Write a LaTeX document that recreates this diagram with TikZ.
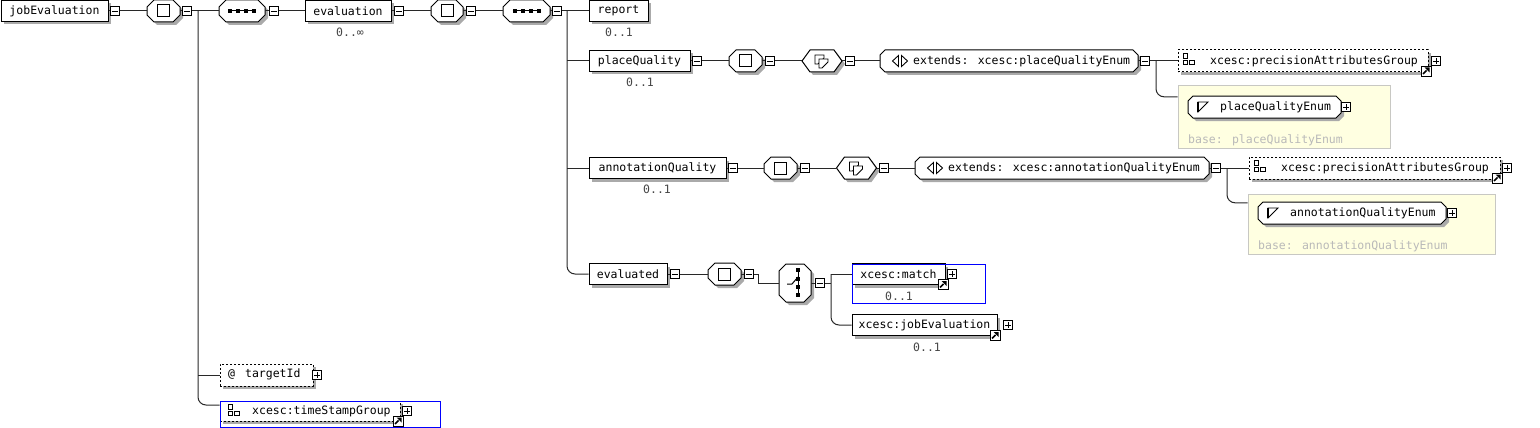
\documentclass[tikz,border=0pt]{standalone}
\usepackage{fontspec}
\newfontfamily\xmono{DejaVu Sans Mono}
\usetikzlibrary{shadows}
\definecolor{lineC}{RGB}{40,40,40}
\definecolor{shadowC}{RGB}{170,170,170}
\definecolor{occC}{RGB}{70,70,70}
\definecolor{yel}{RGB}{255,255,225}
\definecolor{yelB}{RGB}{200,200,195}
\definecolor{baseC}{RGB}{185,185,185}
% octagon outline with offset #1 (used for shadow)
\newcommand\octP[1]{(\oL+\oCx+#1,\oT+#1) -- (\oR-\oCx+#1,\oT+#1) -- (\oR+#1,\oT+\oCy+#1) -- (\oR+#1,\oB-\oCy+#1) -- (\oR-\oCx+#1,\oB+#1) -- (\oL+\oCx+#1,\oB+#1) -- (\oL+#1,\oB-\oCy+#1) -- (\oL+#1,\oT+\oCy+#1) -- cycle}
% #1 name, #2 cx, #3 cy, #4 w, #5 h, #6 chamfer x, #7 chamfer y
\newcommand\octo[7]{%
  \pgfmathsetmacro\oL{#2-#4/2}\pgfmathsetmacro\oR{#2+#4/2}%
  \pgfmathsetmacro\oT{#3-#5/2}\pgfmathsetmacro\oB{#3+#5/2}%
  \def\oCx{#6}\def\oCy{#7}%
  \fill[shadowC] \octP{3};
  \draw[line width=1pt, fill=white] \octP{0};
  \node[rectangle, inner sep=0pt, minimum width=#4pt, minimum height=#5pt] (#1) at (#2,#3) {};
}
\begin{document}
\begin{tikzpicture}[x=1pt,y=-1pt,
  txt/.style={font=\xmono\fontsize{11.5}{13}\selectfont, inner sep=0pt},
  occ/.style={txt, text=occC},
  basetxt/.style={txt, text=baseC, anchor=west},
  shad/.style={general shadow={fill=shadowC, shadow xshift=3pt, shadow yshift=-3pt}},
  elem/.style={txt, rectangle, draw=black, line width=1pt, fill=white, shad, minimum height=21pt},
  attr/.style={elem, dash pattern=on 2pt off 2pt, minimum height=22pt},
  ybox/.style={rectangle, draw=yelB, fill=yel, line width=1pt, inner sep=0pt},
  frame/.style={rectangle, draw=blue, line width=1pt, inner sep=0pt},
  pm/.style={rectangle, draw=black, fill=white, minimum size=9pt, inner sep=0pt, line width=0.8pt,
    path picture={\draw[line width=0.8pt] ([xshift=1.8pt]path picture bounding box.west) -- ([xshift=-1.8pt]path picture bounding box.east);}},
  pp/.style={rectangle, draw=black, fill=white, minimum size=9pt, inner sep=0pt, line width=0.8pt,
    path picture={\draw[line width=0.8pt] ([xshift=1.8pt]path picture bounding box.west) -- ([xshift=-1.8pt]path picture bounding box.east);
                  \draw[line width=0.8pt] ([yshift=-1.8pt]path picture bounding box.north) -- ([yshift=1.8pt]path picture bounding box.south);}},
  con/.style={draw=lineC, line width=1pt},
  sqI/.pic={\draw[line width=1pt] (-6,-6) rectangle (6,6);},
  seqI/.pic={\draw[line width=1pt] (-14,0) -- (14,0);
     \foreach \u in {-12,-4,4,12} {\fill (\u-2,-2) rectangle (\u+2,2);}},
  choiceI/.pic={\draw[line width=1pt] (3,-13) -- (3,12);
     \foreach \v in {-13,-4,4,12} {\fill (1.2,\v-1.8) rectangle (4.8,\v+1.8);}
     \draw[line width=1pt] (-8,1) -- (-3,1) -- (3,-6);},
  hexI/.pic={\draw[line width=0.9pt, fill=white] (-7,-6) -- ++(9,0) -- ++(0,3) -- ++(-6,6) -- ++(-3,0) -- cycle;
     \draw[line width=0.9pt, fill=white] (-3,-2) -- ++(9,0) -- ++(0,3) -- ++(-6,6) -- ++(-3,0) -- cycle;},
  extI/.pic={\draw[line width=0.9pt, fill=white] (-1.5,-5.5) -- (-1.5,5.5) -- (-7.5,0) -- cycle;
     \draw[line width=0.9pt, fill=white] (1.5,-5.5) -- (1.5,5.5) -- (7.5,0) -- cycle;},
  enumI/.pic={\draw[line width=0.9pt] (-5,-5) -- (5,-5) -- (-5,5) -- cycle;
     \draw[line width=1.6pt] (-5,-5) -- (-5,5);},
  grpI/.pic={\draw[line width=0.9pt] (0,0) rectangle (4.5,4.5); \draw[line width=0.9pt] (0,6.5) rectangle (4.5,11);
     \draw[line width=0.9pt] (6.5,6.5) rectangle (11,11);},
  linkI/.pic={\draw[line width=0.9pt, fill=white] (-5,-5) rectangle (5,5);
     \draw[line width=1.6pt] (-3,3) -- (0.5,-0.5);
     \fill (3.5,-3.5) -- (-1.5,-3.5) -- (3.5,1.5) -- cycle;}
]
\useasboundingbox (0,0) rectangle (1540,428);

% ---------- row 1 ----------
\node[elem, minimum width=107pt] (job) at (54.5,11) {jobEvaluation};
\node[pm] (mJob) at (115,11) {};
\octo{o1}{163.5}{11}{33}{22}{7}{7}
\pic at (o1.center) {sqI};
\node[pm] (mO1) at (187,11) {};
\octo{s1}{242}{11}{46}{22}{7}{7}
\pic at (s1.center) {seqI};
\node[pm] (mS1) at (274,11) {};
\node[elem, minimum width=86pt] (eval) at (348,11) {evaluation};
\node[occ] (occEval) at (350,32) {0..∞};
\node[pm] (mEval) at (399,11) {};
\octo{o2}{447}{11}{32}{22}{7}{7}
\pic at (o2.center) {sqI};
\node[pm] (mO2) at (471,11) {};
\octo{s2}{526.5}{11}{47}{22}{7}{7}
\pic at (s2.center) {seqI};
\node[pm] (mS2) at (557,11) {};
\node[elem, minimum width=59pt] (report) at (618.5,11) {report};
\node[occ] (occReport) at (619,32) {0..1};

% ---------- row 2 ----------
\node[elem, minimum width=101pt] (pq) at (639.5,61) {placeQuality};
\node[occ] (occPq) at (640,82) {0..1};
\node[pm] (mPq) at (697,61) {};
\octo{o3}{745.5}{61}{33}{22}{7}{7}
\pic at (o3.center) {sqI};
\node[pm] (mO3) at (770,61) {};
\octo{h1}{822}{61}{40}{22}{8}{11}
\pic at (h1.center) {hexI};
\node[pm] (mH1) at (850,61) {};
\octo{e1}{1009}{61}{258}{22}{5}{5}
\pic at (900,61) {extI};
\node[txt, anchor=west] (e1t) at (913,61) {extends: xcesc:placeQualityEnum};
\node[pm] (mE1) at (1145,61) {};
\node[attr, minimum width=250pt] (p1) at (1303,61) {};
\pic at (1183,53.5) {grpI};
\node[txt, anchor=west] (p1t) at (1210,61) {xcesc:precisionAttributesGroup};
\pic at (1426,71) {linkI};
\node[pp] (pP1) at (1436,61) {};
\node[ybox, minimum width=212pt, minimum height=62pt] (y1) at (1284,117) {};
\octo{en1}{1264.5}{107}{153}{22}{5}{5}
\pic at (1203,107) {enumI};
\node[txt, anchor=west] (en1t) at (1220,107) {placeQualityEnum};
\node[pp] (pEn1) at (1346,107) {};
\node[basetxt] (b1) at (1188,140) {base: placeQualityEnum};

% ---------- row 3 ----------
\node[elem, minimum width=137pt] (aq) at (657.5,168) {annotationQuality};
\node[occ] (occAq) at (657,189) {0..1};
\node[pm] (mAq) at (733,168) {};
\octo{o4}{780.5}{168}{33}{22}{7}{7}
\pic at (o4.center) {sqI};
\node[pm] (mO4) at (805,168) {};
\octo{h2}{856.5}{168}{40}{22}{8}{11}
\pic at (h2.center) {hexI};
\node[pm] (mH2) at (884,168) {};
\octo{e2}{1062}{168}{294}{22}{5}{5}
\pic at (935,168) {extI};
\node[txt, anchor=west] (e2t) at (948,168) {extends: xcesc:annotationQualityEnum};
\node[pm] (mE2) at (1216,168) {};
\node[attr, minimum width=251pt] (p2) at (1374.5,168) {};
\pic at (1254,160.5) {grpI};
\node[txt, anchor=west] (p2t) at (1281,168) {xcesc:precisionAttributesGroup};
\pic at (1497,178) {linkI};
\node[pp] (pP2) at (1507,168) {};
\node[ybox, minimum width=247pt, minimum height=60pt] (y2) at (1371.5,224) {};
\octo{en2}{1352}{213}{188}{22}{5}{5}
\pic at (1273,213) {enumI};
\node[txt, anchor=west] (en2t) at (1290,213) {annotationQualityEnum};
\node[pp] (pEn2) at (1452,213) {};
\node[basetxt] (b2) at (1258,246) {base: annotationQualityEnum};

% ---------- row 4 ----------
\node[elem, minimum width=78pt] (evd) at (628,274) {evaluated};
\node[pm] (mEvd) at (675,274) {};
\octo{o5}{724.5}{274}{33}{22}{7}{7}
\pic at (o5.center) {sqI};
\node[pm] (mO5) at (749,274) {};
\octo{ch}{795}{283}{32}{38}{7}{7}
\pic at (ch.center) {choiceI};
\node[pm] (mCh) at (820,283) {};
\node[elem, minimum width=93pt] (match) at (898.5,274) {xcesc:match};
\pic at (943,284.5) {linkI};
\node[pp] (pMatch) at (952,274) {};
\node[occ] (occMatch) at (899,296) {0..1};
\node[frame, minimum width=133pt, minimum height=39pt] (matchF) at (918.5,283.5) {};
\node[elem, minimum width=145pt] (je) at (924.5,325) {xcesc:jobEvaluation};
\pic at (995,335.5) {linkI};
\node[pp] (pJe) at (1008,325) {};
\node[occ] (occJe) at (927,347) {0..1};

% ---------- bottom ----------
\node[attr, minimum width=93pt] (tid) at (266.5,375) {};
\node[txt, anchor=west] (tidt) at (228,374) {@\hskip 10pt targetId};
\node[pp] (pTid) at (317,375) {};
\node[attr, minimum width=180pt, minimum height=20pt] (ts) at (310,411) {};
\pic at (228,404.5) {grpI};
\node[txt, anchor=west] (tst) at (252,411) {xcesc:timeStampGroup};
\pic at (398,421) {linkI};
\node[pp] (pTs) at (407,411) {};
\node[frame, minimum width=220pt, minimum height=26pt] (tsF) at (330,414) {};

% ---------- connectors ----------
\coordinate (t1) at (198,11);
\coordinate (t2) at (567,11);
\coordinate (t3) at (1156,61);
\coordinate (t4) at (1227,168);
\coordinate (t5) at (831,274);
\draw[con] (job.east) -- (mJob.west);
\draw[con] (mJob.east) -- (o1.west);
\draw[con] (o1.east) -- (mO1.west);
\draw[con] (mO1.east) -- (s1.west);
\draw[con] (s1.east) -- (mS1.west);
\draw[con] (mS1.east) -- (eval.west);
\draw[con] (eval.east) -- (mEval.west);
\draw[con] (mEval.east) -- (o2.west);
\draw[con] (o2.east) -- (mO2.west);
\draw[con] (mO2.east) -- (s2.west);
\draw[con] (s2.east) -- (mS2.west);
\draw[con] (mS2.east) -- (report.west);
\draw[con, rounded corners=8pt] (t1) |- ([yshift=6pt]ts.west);
\draw[con] (tid.west -| t1) -- (tid.west);
\draw[con, rounded corners=8pt] (t2) |- (evd.west);
\draw[con] (pq.west -| t2) -- (pq.west);
\draw[con] (aq.west -| t2) -- (aq.west);

\draw[con] (pq.east) -- (mPq.west);
\draw[con] (mPq.east) -- (o3.west);
\draw[con] (o3.east) -- (mO3.west);
\draw[con] (mO3.east) -- (h1.west);
\draw[con] (h1.east) -- (mH1.west);
\draw[con] (mH1.east) -- (e1.west);
\draw[con] (e1.east) -- (mE1.west);
\draw[con] (mE1.east) -- (p1.west);
\draw[con, rounded corners=8pt] (t3) |- ([yshift=-1pt]y1.west |- en1.north);

\draw[con] (aq.east) -- (mAq.west);
\draw[con] (mAq.east) -- (o4.west);
\draw[con] (o4.east) -- (mO4.west);
\draw[con] (mO4.east) -- (h2.west);
\draw[con] (h2.east) -- (mH2.west);
\draw[con] (mH2.east) -- (e2.west);
\draw[con] (e2.east) -- (mE2.west);
\draw[con] (mE2.east) -- (p2.west);
\draw[con, rounded corners=8pt] (t4) |- ([yshift=-1pt]y2.west |- en2.north);

\draw[con] (evd.east) -- (mEvd.west);
\draw[con] (mEvd.east) -- (o5.west);
\draw[con] (o5.east) -- (mO5.west);
\draw[con] (mO5.east) -- ++(5,0) |- (ch.west);
\draw[con] (ch.east) -- (mCh.west);
\draw[con] (mCh.east) -- (mCh.east -| t5);
\draw[con] (t5) -- (match.west);
\draw[con, rounded corners=8pt] (t5) |- (je.west);
\end{tikzpicture}
\end{document}
